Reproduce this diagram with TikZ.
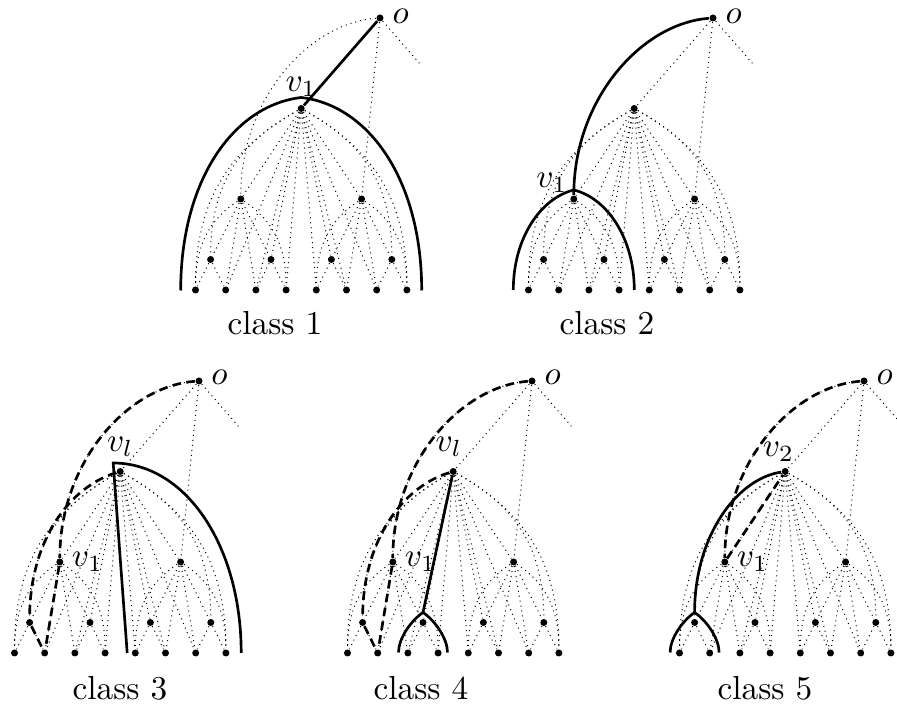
\documentclass[tikz,border=0pt]{standalone}
\usetikzlibrary{positioning, calc}

\tikzset{
  treenode/.style={circle, fill, inner sep=0pt, minimum size=2.1pt},
  reach/.style={line width=0.3pt, dash pattern=on 0.3pt off 1.2pt},
  nametag/.style={inner sep=0pt},
  walk/.style={thick, dash pattern=on 2.6pt off 1.6pt},
  arcto/.style={to path={.. controls ($(\tikztostart)!0.5!(\tikztostart -| \tikztotarget)!#1!(\tikztotarget)$)
      and ($(\tikztotarget)!0.55!(\tikztotarget |- \tikztostart)$) .. (\tikztotarget)}},
  arcto/.default=0.2
}

% one copy of the tree: #1 prefix, (#2,#3) where o sits
\newcommand{\classtree}[3]{%
  \begin{scope}[shift={(#2,#3)}]
    \node[treenode] (#1o) at (0,0) {};
    \node[treenode] (#11) at (-78.8,90.5) {};
    \foreach \i [evaluate=\i as \x using -139.2+120.8*\i, evaluate=\i as \n using int(2+\i)] in {0,1}
      \node[treenode] (#1\n) at (\x,181) {};
    \foreach \i [evaluate=\i as \x using -169.4+60.4*\i, evaluate=\i as \n using int(4+\i)] in {0,...,3}
      \node[treenode] (#1\n) at (\x,241.5) {};
    \foreach \i [evaluate=\i as \x using -184.5+30.2*\i, evaluate=\i as \n using int(8+\i)] in {0,...,7}
      \node[treenode] (#1\n) at (\x,272) {};
    \coordinate (#1s) at (39.4,45.25);
  \end{scope}
  \draw[reach] (#1o) -- (#11);
  \draw[reach] (#1o) to[arcto=0.03] (#12);
  \draw[reach] (#1o) -- (#13);
  \draw[reach] (#1o) -- (#1s);
  % every node to every descendant
  \foreach \n in {1,...,7} {
    \foreach \dep in {1,2,3} {
      \pgfmathtruncatemacro\lowm{\n*2^\dep}
      \pgfmathtruncatemacro\highm{\lowm+2^\dep-1}
      \ifnum\highm<16
        \foreach \m in {\lowm,...,\highm} {
          \ifnum\dep=1 \draw[reach] (#1\n) -- (#1\m);
          \else\ifnum\m=\lowm \draw[reach] (#1\n) to[arcto] (#1\m);
          \else\ifnum\m=\highm \draw[reach] (#1\n) to[arcto] (#1\m);
          \else \draw[reach] (#1\n) -- (#1\m);
          \fi\fi\fi
        }
      \fi
    }
  }
}

\begin{document}
\begin{tikzpicture}[x=0.3pt, y=-0.3pt]
  \useasboundingbox (0,0) rectangle (897,705);

  \classtree{a}{380}{18}
  \classtree{b}{713}{18}
  \classtree{c}{199}{381}
  \classtree{d}{532}{381}
  \classtree{e}{864}{381}

  % class 1
  \coordinate (atop) at ($(a1)+(0,-11)$);
  \coordinate (aleft) at ($(a1)+(-120.5,182)$);
  \coordinate (aright) at ($(a1)+(120.5,182)$);
  \draw[thick] (ao) -- (a1);
  \draw[thick] (aleft) .. controls +(0,-110) and +(-68,8) .. (atop)
    .. controls +(68,8) and +(0,-110) .. (aright);
  \node[nametag, right=2.3pt of ao, yshift=0.6pt] (aol) {$o$};
  \node[nametag, above=2.2pt of a1] (a1l) {$v_1$};
  \node (acap) at (275,323) {class 1};

  % class 2
  \coordinate (btop) at ($(b2)+(0,-9)$);
  \coordinate (bleft) at ($(b2)+(-60.5,91)$);
  \coordinate (bright) at ($(b2)+(60.5,91)$);
  \draw[thick] (bo) to[arcto=0.03] (b2);
  \draw[thick] (bleft) .. controls +(0,-52) and +(-33,8) .. (btop)
    .. controls +(33,8) and +(0,-52) .. (bright);
  \node[nametag, right=2.3pt of bo, yshift=0.6pt] (bol) {$o$};
  \node[nametag, above left=1pt and 0.8pt of b2] (b2l) {$v_1$};
  \node (bcap) at (607,323) {class 2};

  % class 3
  \coordinate (ccorner) at ($(c1)+(-7,-8.5)$);
  \coordinate (cfoot) at ($(c1)+(7,181.5)$);
  \coordinate (cright) at ($(c1)+(121,181.5)$);
  \draw[walk] (co) to[arcto=0.03] (c2) -- (c9);
  \draw[walk] (c1) to[arcto=0.1] (c4) -- (c9);
  \draw[thick] (cfoot) -- (ccorner) .. controls +(72,0) and +(0,-108) .. (cright);
  \node[nametag, right=2.3pt of co, yshift=1.1pt] (col) {$o$};
  \node[nametag, above=3pt of c1] (c1l) {$v_l$};
  \node[nametag, right=2.2pt of c2] (c2l) {$v_1$};
  \node (ccap) at (120,688) {class 3};

  % class 4
  \coordinate (dtop) at ($(d5)+(0,-10)$);
  \coordinate (dleft) at ($(d5)+(-24.5,30)$);
  \coordinate (dright) at ($(d5)+(24.5,30)$);
  \draw[walk] (do) to[arcto=0.03] (d2) -- (d9);
  \draw[walk] (d1) to[arcto=0.1] (d4) -- (d9);
  \draw[thick] (d1) -- (dtop);
  \draw[thick] (dleft) .. controls +(0,-14) and +(-12,8) .. (dtop)
    .. controls +(12,8) and +(0,-14) .. (dright);
  \node[nametag, right=2.3pt of do, yshift=1.1pt] (dol) {$o$};
  \node[nametag, above=3pt of d1, xshift=-1.3pt] (d1l) {$v_l$};
  \node[nametag, right=2.2pt of d2] (d2l) {$v_1$};
  \node (dcap) at (421,688) {class 4};

  % class 5
  \coordinate (etop) at ($(e4)+(0,-10)$);
  \coordinate (eleft) at ($(e4)+(-24.5,30)$);
  \coordinate (eright) at ($(e4)+(24.5,30)$);
  \draw[walk] (eo) to[arcto=0.03] (e2) -- (e1);
  \draw[thick] (e1) to[arcto=0.05] (etop);
  \draw[thick] (eleft) .. controls +(0,-14) and +(-12,8) .. (etop)
    .. controls +(12,8) and +(0,-14) .. (eright);
  \node[nametag, right=2.3pt of eo, yshift=1.1pt] (eol) {$o$};
  \node[nametag, above=1.6pt of e1, xshift=-2pt] (e1l) {$v_2$};
  \node[nametag, right=2.2pt of e2] (e2l) {$v_1$};
  \node (ecap) at (765,688) {class 5};
\end{tikzpicture}
\end{document}
